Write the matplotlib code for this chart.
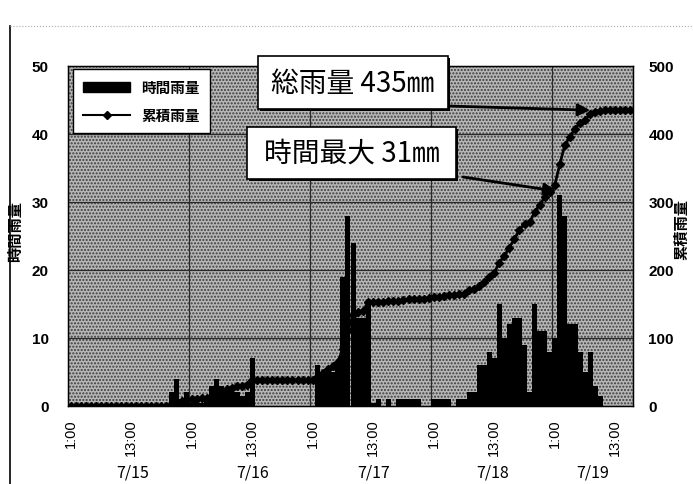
import matplotlib.pyplot as plt
from matplotlib.patches import Rectangle, Patch
from matplotlib.lines import Line2D

plt.rcParams['font.family'] = ['Liberation Sans', 'Noto Sans CJK JP']

# 時間雨量 (mm), hourly from 7/15 1:00
hourly = [0] * 20 + [
    2, 4, 1, 2, 0.5, 1, 0.5, 1, 3, 4, 3, 2.5, 2.5, 2, 1.5, 2, 7,      # k20-36
] + [0] * 12 + [
    6, 5, 5, 5, 6, 19, 28, 24, 13, 13, 15,                             # k49-59
    0.5, 1, 0, 1, 0, 1, 1, 1, 1, 1, 0, 0, 1, 1, 1, 1, 0, 1, 1, 2, 2,   # k60-80
    6, 6, 8, 7, 15, 10, 12, 13, 13, 9, 2, 15, 11, 11, 8, 10, 31, 28,   # k81-98
    12, 12, 8, 5, 8, 3, 1.5, 0, 0, 0, 0, 0, 0,                         # k99-111
]

# 累積雨量 (mm)
cumulative = [0] * 20 + [
    2, 6, 7, 9, 10, 10.5, 11.5, 12, 15, 19, 22, 25, 27, 29, 30, 31.5, 38,
] + [38] * 12 + [
    44, 49, 54, 59, 65, 84, 112, 134, 138, 140, 153,
    153, 153, 153, 154, 154, 155, 156, 157, 158, 158, 158, 159, 160, 161, 162, 163,
    163, 164, 165, 170, 172,
    177, 182, 189, 196, 211, 221, 233, 246, 259, 268, 270, 285, 296, 307, 315, 325,
    356, 384, 396, 408, 416, 421, 429, 432, 434, 435, 435, 435, 435, 435, 435,
]

tick_pos = list(range(0, 112, 12))
tick_labels = ['1:00', '13:00'] * 5
date_labels = ['7/15', '7/16', '7/17', '7/18', '7/19']
date_pos = [12.4, 36, 60, 83.6, 103.5]
day_lines = [23.5, 47.5, 71.5, 95.5]

W, H = 693, 485
fig = plt.figure(figsize=(W / 100, H / 100), dpi=100)
ax = fig.add_axes([68 / W, 1 - 407 / H, 565 / W, 340 / H])

x = list(range(len(hourly)))
ax.set_facecolor('#b6b6b6')
ax.add_patch(Rectangle((0, 0), 1, 1, transform=ax.transAxes, facecolor='none',
                       edgecolor='#3c3c3c', hatch='.....', lw=0, zorder=0))
for v in [10, 20, 30, 40]:
    ax.axhline(v, color='#2a2a2a', lw=0.9, zorder=1)
for d in day_lines:
    ax.axvline(d, color='#2a2a2a', lw=0.9, zorder=1)

ax.bar(x, hourly, width=1.0, color='black', zorder=2)
ax.set_xlim(-0.5, len(hourly) - 0.5)
ax.set_ylim(0, 50)
ax.set_yticks([0, 10, 20, 30, 40, 50])
ax.set_xticks(tick_pos)
ax.set_xticklabels(tick_labels, rotation=90, fontsize=10.5)
ax.tick_params(axis='y', length=0, pad=14, labelsize=11)
ax.tick_params(axis='x', length=0, pad=9)
for lab in ax.get_yticklabels():
    lab.set_fontweight('bold')
for s in ax.spines.values():
    s.set_color('black')
    s.set_linewidth(1.0)

ax2 = ax.twinx()
ax2.plot(x, cumulative, color='black', lw=2.0, marker='D', ms=3.8, zorder=3)
ax2.set_ylim(0, 500)
ax2.set_yticks([0, 100, 200, 300, 400, 500])
ax2.tick_params(axis='y', length=0, pad=11, labelsize=11)
for lab in ax2.get_yticklabels():
    lab.set_fontweight('bold')

fig.text(16 / W, 1 - 232 / H, '時間雨量', rotation=90, ha='center', va='center',
         fontsize=11, fontweight='bold')
fig.text(682 / W, 1 - 230 / H, '累積雨量', rotation=90, ha='center', va='center',
         fontsize=11, fontweight='bold')

for lab, p in zip(date_labels, date_pos):
    ax.text(p, -0.195, lab, transform=ax.get_xaxis_transform(), ha='center', va='center',
            fontsize=11.5, family='Noto Sans CJK JP')

handles = [Patch(facecolor='black', edgecolor='black'),
           Line2D([], [], color='black', lw=1.5, marker='D', ms=4.5)]
leg = ax2.legend(handles, ['時間雨量', '累積雨量'], loc='upper left',
                 bbox_to_anchor=(73 / W, 1 - 70 / H), bbox_transform=fig.transFigure,
                 frameon=True, fancybox=False, framealpha=1, edgecolor='black',
                 prop={'family': 'Noto Sans CJK JP', 'size': 10.5, 'weight': 'bold'},
                 handlelength=3.2, borderpad=0.7, labelspacing=0.8, borderaxespad=0)
leg.get_frame().set_linewidth(1.0)
leg.set_zorder(5)


def box(x0, y0, x1, y1, text):
    fig.patches.append(Rectangle((x0 / W + 2 / W, 1 - y1 / H - 2 / H), (x1 - x0) / W, (y1 - y0) / H,
                                 transform=fig.transFigure, facecolor='black', zorder=6))
    fig.patches.append(Rectangle((x0 / W, 1 - y1 / H), (x1 - x0) / W, (y1 - y0) / H,
                                 transform=fig.transFigure, facecolor='white',
                                 edgecolor='black', lw=1.2, zorder=7))
    fig.text((x0 + x1) / 2 / W, 1 - (y0 + y1) / 2 / H, text, ha='center', va='center',
             fontsize=20, family='Noto Sans CJK JP', zorder=8)


box(258, 57, 448, 110, '総雨量 435㎜')
box(247, 128, 456, 180, '時間最大 31㎜')

arrow = dict(arrowstyle='-|>', color='black', lw=2, mutation_scale=18, shrinkA=0, shrinkB=0)
ax2.annotate('', xy=(103, 435), xycoords='data', xytext=(448, H - 107),
             textcoords='figure pixels', arrowprops=arrow, zorder=9)
ax.annotate('', xy=(96.3, 31.6), xycoords='data', xytext=(463, H - 178),
            textcoords='figure pixels', arrowprops=arrow, zorder=9)

fig.add_artist(Line2D([10 / W, 10 / W], [0, 1 - 27 / H], transform=fig.transFigure,
                      color='black', lw=1.2))
fig.add_artist(Line2D([10 / W, 1], [1 - 27 / H, 1 - 27 / H], transform=fig.transFigure,
                      color='#aaaaaa', lw=0.8, ls=':'))

fig.savefig('out.png', dpi=100)
